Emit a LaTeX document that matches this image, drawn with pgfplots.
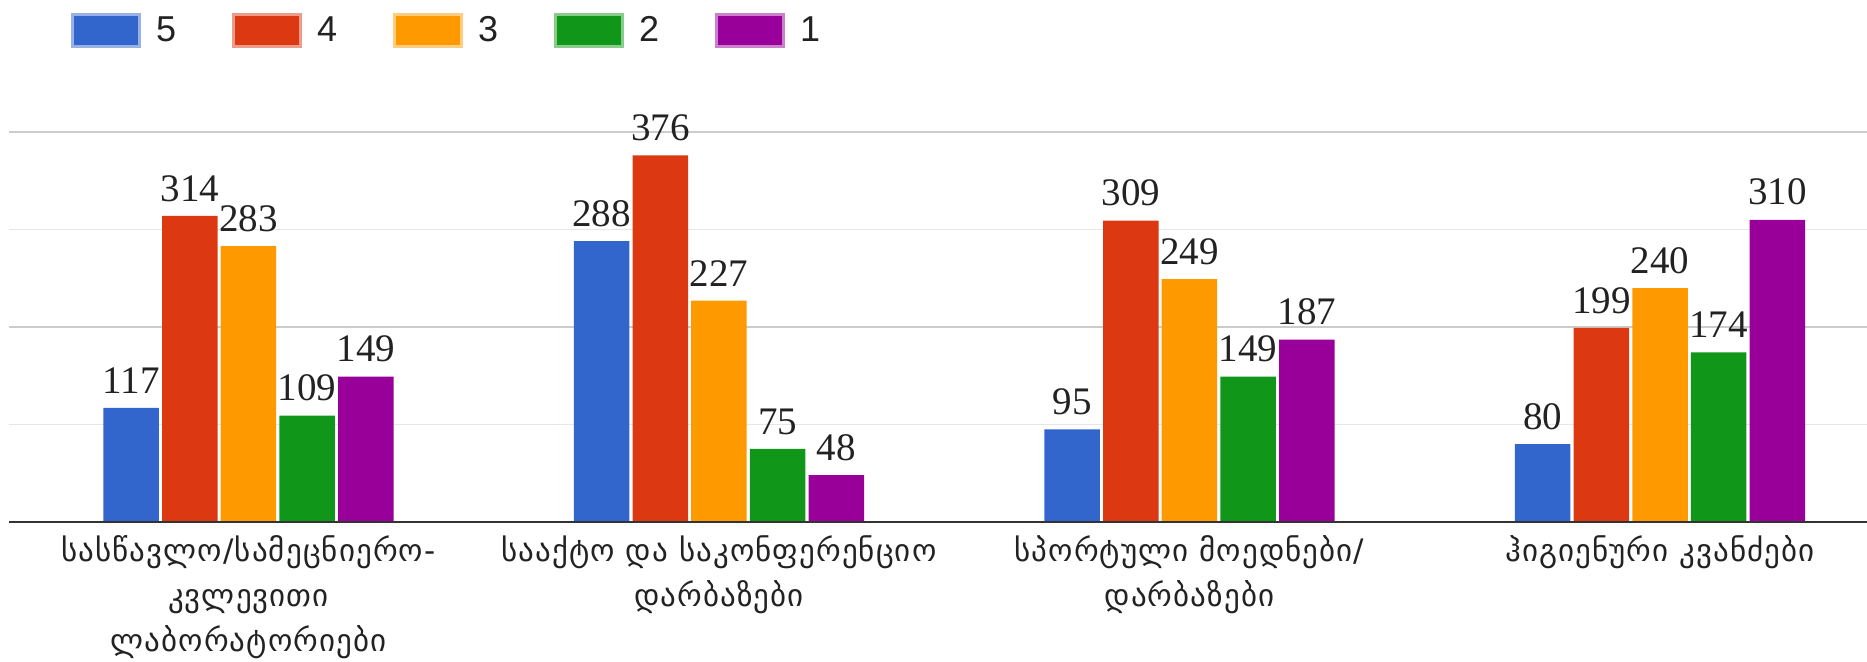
\documentclass[border=0pt]{standalone}
\usepackage{fontspec}
\setmainfont{Liberation Serif}
\newfontfamily\geofont[LetterSpace=3.5]{DejaVu Sans}
\newfontfamily\lsans{Liberation Sans}
\usepackage{pgfplots}
\usepackage{pgfplotstable}
\pgfplotsset{compat=1.18}
\definecolor{c5}{HTML}{3366CC}
\definecolor{c4}{HTML}{DC3912}
\definecolor{c3}{HTML}{FF9900}
\definecolor{c2}{HTML}{109618}
\definecolor{c1}{HTML}{990099}
\definecolor{gridmaj}{HTML}{CCCCCC}
\definecolor{gridmin}{HTML}{E6E6E6}
\definecolor{axisc}{HTML}{333333}
\definecolor{txt}{HTML}{222222}
\pgfplotstableread{
x v5 v4 v3 v2 v1
0 117 314 283 109 149
1 288 376 227 75 48
2 95 309 249 149 187
3 80 199 240 174 310
}\data
\newcommand{\legimg}[1]{\draw[fill=#1, draw=#1!50!white, line width=1.5pt] (0.75pt,-8pt) rectangle (34.25pt,8pt);}
\begin{document}
\begin{tikzpicture}
\begin{axis}[
  scale only axis,
  width=929pt, height=195pt,
  xmin=-0.509, xmax=3.440,
  ymin=0, ymax=400,
  ybar=1.6pt,
  bar width=27.75pt,
  axis line style={draw=none},
  tick style={draw=none},
  major tick length=0pt,
  ytick={200,400},
  minor ytick={100,300},
  yticklabels={},
  ymajorgrids, yminorgrids,
  major grid style={draw=gridmaj, line width=0.85pt},
  minor grid style={draw=gridmin, line width=0.85pt},
  xtick={0,1,2,3},
  xticklabels={{\strut სასწავლო/სამეცნიერო-\\კვლევითი\\ლაბორატორიები},
               {\strut სააქტო და საკონფერენციო\\დარბაზები},
               {\strut სპორტული მოედნები/\\დარბაზები},
               {\strut ჰიგიენური კვანძები}},
  xticklabel style={font=\geofont\fontsize{15.5}{22.5}\selectfont, text=txt, align=center, anchor=north, inner sep=0pt, yshift=-3.75pt},
  /pgf/number format/assume math mode=true,
  nodes near coords,
  every node near coord/.append style={font=\fontsize{19.5}{22}\selectfont, text=txt, inner sep=0pt, anchor=south, yshift=7pt},
  clip=false,
  legend columns=5,
  legend style={draw=none, fill=none, inner sep=0pt, outer sep=0pt,
    at={(axis description cs:0,1)}, anchor=west, xshift=31pt, yshift=50.75pt,
    font=\lsans\fontsize{18}{20}\selectfont, text=txt,
    nodes={inner sep=0pt},
    /tikz/every odd column/.append style={column sep=7.5pt},
    /tikz/every even column/.append style={column sep=28pt}},
]
\addplot[fill=c5, draw=none, legend image code/.code={\legimg{c5}}] table[x=x,y=v5]{\data};
\addplot[fill=c4, draw=none, legend image code/.code={\legimg{c4}}] table[x=x,y=v4]{\data};
\addplot[fill=c3, draw=none, legend image code/.code={\legimg{c3}}] table[x=x,y=v3]{\data};
\addplot[fill=c2, draw=none, legend image code/.code={\legimg{c2}}] table[x=x,y=v2]{\data};
\addplot[fill=c1, draw=none, legend image code/.code={\legimg{c1}}] table[x=x,y=v1]{\data};
\legend{5,4,3,2,1}
\draw[axisc, line width=1.35pt] (rel axis cs:0,0) -- (rel axis cs:1,0);
\end{axis}
\pgfresetboundingbox
\path[use as bounding box] (-4.5pt,-69.5pt) rectangle (929pt,261pt);
\end{tikzpicture}
\end{document}
